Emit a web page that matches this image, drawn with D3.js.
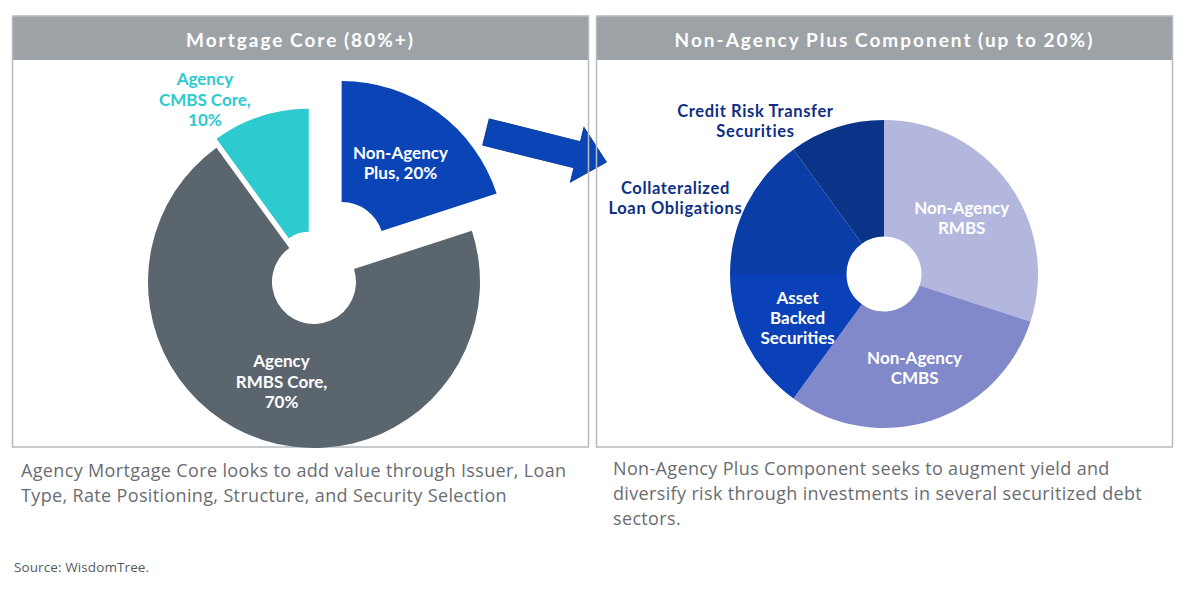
<!DOCTYPE html>
<html><head><meta charset="utf-8">
<script src="https://cdn.jsdelivr.net/npm/d3@7"></script>
<style>body{margin:0;background:#fff;} svg{display:block;}</style>
</head><body>
<svg id="c" width="1200" height="593"></svg>
<script>
// ---------- data ----------
const panelTitles = ["Mortgage Core (80%+)", "Non-Agency Plus Component (up to 20%)"];
const coreNames  = ["Non-Agency Plus", "Agency RMBS Core", "Agency CMBS Core"];
const coreValues = [20, 70, 10];
const coreLabels = [["Non-Agency", "Plus, 20%"], ["Agency", "RMBS Core,", "70%"], ["Agency", "CMBS Core,", "10%"]];
const plusNames  = ["Non-Agency RMBS", "Non-Agency CMBS", "Asset Backed Securities", "Collateralized Loan Obligations", "Credit Risk Transfer Securities"];
const plusValues = [30, 30, 15, 15, 10];
const plusLabels = [["Non-Agency", "RMBS"], ["Non-Agency", "CMBS"], ["Asset", "Backed", "Securities"], ["Collateralized", "Loan Obligations"], ["Credit Risk Transfer", "Securities"]];
const captionLeft  = ["Agency Mortgage Core looks to add value through Issuer, Loan", "Type, Rate Positioning, Structure, and Security Selection"];
const captionRight = ["Non-Agency Plus Component seeks to augment yield and", "diversify risk through investments in several securitized debt", "sectors."];
const sourceText = "Source: WisdomTree.";

// ---------- styles / layout ----------
const coreColors = ["#0a44b6", "#5b656e", "#2dcad0"];
const coreLabelColors = ["#ffffff", "#ffffff", "#2dcad0"];
const coreExplode = [47, 0, 17];
const coreOuter = [163, 166, 157];
const coreLabelPos = [{r:100}, {r:105}, {r:196, a:328}];
const plusColors = ["#b3b7dd", "#8289ca", "#0a40b8", "#0a3ea6", "#0b3387"];
const plusLabelColors = ["#ffffff", "#ffffff", "#ffffff", "#0e2f84", "#0e2f84"];
const plusLabelPos = [{r:96}, {r:99}, {r:97}, {r:222, a:290}, {r:200, a:320}];

const svg = d3.select("#c");
const FONT = "Lato, 'Noto Sans', sans-serif";
const CAP = "'Open Sans', 'Noto Sans', sans-serif";
const rad = Math.PI / 180;

// arrow (behind panel borders)
const arrowPts = [[0,-13.5],[94,-13.5],[94,-28],[124,0],[94,28],[94,13.5],[0,13.5]];
svg.append("path")
  .attr("d", d3.line()(arrowPts) + "Z")
  .attr("transform", "translate(486,132) rotate(14)")
  .attr("fill", "#0a45b8").attr("stroke", "#0b3a9a").attr("stroke-width", 1);

// panels
const panels = [{x:12.5, cx:314, cy:282}, {x:596.5, cx:884, cy:274}];
panels.forEach((p, i) => {
  svg.append("rect").attr("x", p.x).attr("y", 16).attr("width", 576).attr("height", 44).attr("fill", "#9da2a7");
  svg.append("rect").attr("x", p.x).attr("y", 16).attr("width", 576).attr("height", 431)
    .attr("fill", "none").attr("stroke", "#b7bbbf").attr("stroke-width", 1.5);
  svg.append("text").attr("x", p.x + 288).attr("y", 46.5).attr("text-anchor", "middle")
    .attr("font-family", FONT).attr("font-weight", 700).attr("font-size", 19)
    .attr("letter-spacing", 2).attr("word-spacing", -1)
    .attr("fill", "#ffffff").text(panelTitles[i]);
});

function drawLabel(g, x, y, lines, color, size, lh, ls) {
  const t = g.append("text").attr("text-anchor", "middle")
    .attr("font-family", FONT).attr("font-weight", 700).attr("font-size", size)
    .attr("letter-spacing", ls || 0).attr("fill", color);
  const y0 = y - (lines.length - 1) * lh / 2 + size * 0.36;
  lines.forEach((l, k) => t.append("tspan").attr("x", x).attr("y", y0 + k * lh).text(l));
}

// ---------- left pie ----------
const pie = d3.pie().sort(null).value(d => d);
const coreArcs = pie(coreValues);
const gL = svg.append("g");
coreArcs.forEach((a, i) => {
  const mid = (a.startAngle + a.endAngle) / 2;
  const ox = panels[0].cx + Math.sin(mid) * coreExplode[i];
  const oy = panels[0].cy - Math.cos(mid) * coreExplode[i];
  const arc = d3.arc().innerRadius(i === 2 ? 34 : 42).outerRadius(coreOuter[i]);
  gL.append("path").attr("d", arc(a)).attr("transform", `translate(${ox},${oy})`)
    .attr("fill", coreColors[i]).append("title").text(coreNames[i] + ": " + coreValues[i] + "%");
  const lp = coreLabelPos[i];
  const ang = lp.a !== undefined ? lp.a * rad : mid;
  drawLabel(gL, ox + Math.sin(ang) * lp.r, oy - Math.cos(ang) * lp.r, coreLabels[i], coreLabelColors[i], 17, 20.5, 0);
});

// ---------- right pie ----------
const plusArcs = pie(plusValues);
const gR = svg.append("g").attr("transform", `translate(${panels[1].cx},${panels[1].cy})`);
const arcR = d3.arc().innerRadius(37.5).outerRadius(154);
plusArcs.forEach((a, i) => {
  gR.append("path").attr("d", arcR(a)).attr("fill", plusColors[i])
    .append("title").text(plusNames[i] + ": " + plusValues[i] + "%");
});
plusArcs.forEach((a, i) => {
  const mid = (a.startAngle + a.endAngle) / 2;
  const lp = plusLabelPos[i];
  const ang = lp.a !== undefined ? lp.a * rad : mid;
  const outside = lp.a !== undefined;
  drawLabel(gR, Math.sin(ang) * lp.r, -Math.cos(ang) * lp.r, plusLabels[i], plusLabelColors[i],
    outside ? 16.5 : 17, 20, outside ? 0.65 : 0);
});

// ---------- captions ----------
function caption(x, y, lines) {
  const t = svg.append("text").attr("font-family", CAP).attr("font-size", 18)
    .attr("letter-spacing", 0.35).attr("fill", "#6a6d71");
  lines.forEach((l, k) => t.append("tspan").attr("x", x).attr("y", y + k * 25).text(l));
}
caption(21, 477, captionLeft);
caption(613, 475, captionRight);
svg.append("text").attr("x", 14).attr("y", 572).attr("font-family", CAP).attr("font-size", 13.5)
  .attr("letter-spacing", 0.1).attr("fill", "#555a5f").text(sourceText);
</script>
</body></html>
